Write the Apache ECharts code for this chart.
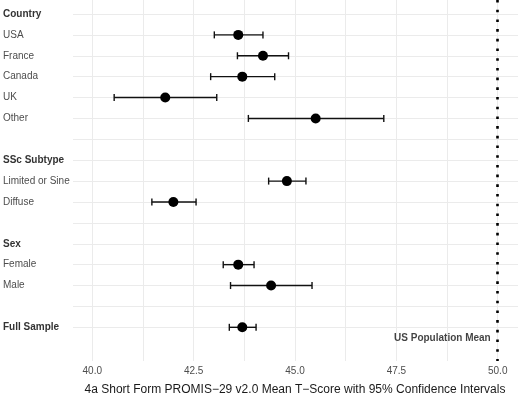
<!DOCTYPE html>
<html>
<head>
<meta charset="utf-8">
<script src="https://cdn.jsdelivr.net/npm/echarts@6/dist/echarts.min.js"></script>
<style>
  html, body { margin: 0; padding: 0; background: #fff; }
  #main { width: 520px; height: 397px; }
</style>
</head>
<body>
<div id="main"></div>
<script>
// rows top to bottom (blank rows separate the groups)
var rows = ['Country', 'USA', 'France', 'Canada', 'UK', 'Other', ' ',
            'SSc Subtype', 'Limited or Sine', 'Diffuse', '  ',
            'Sex', 'Female', 'Male', '   ', 'Full Sample'];
var headers = ['Country', 'SSc Subtype', 'Sex', 'Full Sample'];

// estimates
var estLabels = ['USA', 'France', 'Canada', 'UK', 'Other', 'Limited or Sine', 'Diffuse', 'Female', 'Male', 'Full Sample'];
var means = [43.60, 44.21, 43.70, 41.80, 45.51, 44.80, 42.00, 43.60, 44.41, 43.70];
var lower = [43.01, 43.58, 42.92, 40.54, 43.85, 44.35, 41.47, 43.23, 43.41, 43.38];
var upper = [44.21, 44.84, 44.50, 43.07, 47.19, 45.27, 42.56, 43.99, 45.42, 44.04];

var popMean = 50;
var popLabel = 'US Population Mean';
var xTitle = '4a Short Form PROMIS\u221229 v2.0 Mean T\u2212Score with 95% Confidence Intervals';

var chart = echarts.init(document.getElementById('main'));

var barData = estLabels.map(function (l, i) { return [lower[i], upper[i], rows.indexOf(l)]; });
var pointData = estLabels.map(function (l, i) { return [means[i], rows.indexOf(l)]; });

var font = 'Liberation Sans, Arial, Helvetica, sans-serif';

option = {
    animation: false,
    textStyle: { fontFamily: font },
    grid: [
        { left: 72, right: 2, top: 14, bottom: 69.7 },   // row labels + horizontal grid
        { left: 92.27, right: 2, top: 0, bottom: 36 }    // data + vertical grid
    ],
    xAxis: [
        { gridIndex: 0, type: 'value', min: 0, max: 1, show: false },
        {
            gridIndex: 1, type: 'value', min: 40, max: 50.5, interval: 1.25,
            axisLine: { show: false },
            axisTick: { show: false },
            splitLine: { show: true, showMaxLine: false, lineStyle: { color: '#ebebeb', width: 1 } },
            axisLabel: {
                color: '#4d4d4d', fontSize: 10, margin: 5, showMaxLabel: false,
                formatter: function (v) { return (Math.abs(v / 2.5 - Math.round(v / 2.5)) < 1e-6) ? v.toFixed(1) : ''; }
            }
        }
    ],
    yAxis: [
        {
            gridIndex: 0, type: 'value', inverse: true, min: 0, max: 15, interval: 1,
            axisLine: { show: false },
            axisTick: { show: false },
            splitLine: { show: true, lineStyle: { color: '#ebebeb', width: 1 } },
            axisLabel: {
                align: 'left', margin: 70, color: '#4d4d4d', fontSize: 10,
                formatter: function (v) {
                    var name = rows[v] || '';
                    return headers.indexOf(name) >= 0 ? '{b|' + name + '}' : name;
                },
                rich: { b: { fontWeight: 'bold', color: '#333', fontSize: 10, fontFamily: font } }
            }
        },
        { gridIndex: 1, type: 'value', inverse: true, min: -0.670, max: 16.613, show: false }
    ],
    series: [
        {
            type: 'custom',
            xAxisIndex: 1, yAxisIndex: 1,
            data: barData,
            encode: { x: [0, 1], y: 2 },
            renderItem: function (params, api) {
                var a = api.coord([api.value(0), api.value(2)]);
                var b = api.coord([api.value(1), api.value(2)]);
                var st = { stroke: '#111', lineWidth: 1.4 };
                return {
                    type: 'group',
                    children: [
                        { type: 'line', shape: { x1: a[0], y1: a[1], x2: b[0], y2: b[1] }, style: st },
                        { type: 'line', shape: { x1: a[0], y1: a[1] - 3.5, x2: a[0], y2: a[1] + 3.5 }, style: st },
                        { type: 'line', shape: { x1: b[0], y1: b[1] - 3.5, x2: b[0], y2: b[1] + 3.5 }, style: st }
                    ]
                };
            },
            markLine: {
                silent: true,
                symbol: 'none',
                label: { show: false },
                lineStyle: { color: '#000', width: 2.6, type: [2.6, 7.1] },
                data: [{ xAxis: popMean }]
            }
        },
        {
            type: 'scatter',
            xAxisIndex: 1, yAxisIndex: 1,
            data: pointData,
            symbol: 'circle',
            symbolSize: 10,
            itemStyle: { color: '#000', opacity: 1 },
            z: 3
        },
        {
            type: 'scatter',
            xAxisIndex: 1, yAxisIndex: 1,
            data: [[popMean, 15.5]],
            symbolSize: 0,
            label: {
                show: true, position: 'left', distance: 7,
                formatter: popLabel,
                color: '#111', fontWeight: 'bold', fontSize: 10
            }
        }
    ],
    graphic: [
        {
            type: 'text', x: 295, y: 390,
            style: { text: xTitle, fill: '#1a1a1a', font: '12px ' + font, textAlign: 'center', textVerticalAlign: 'middle' }
        }
    ]
};

chart.setOption(option);
</script>
</body>
</html>
